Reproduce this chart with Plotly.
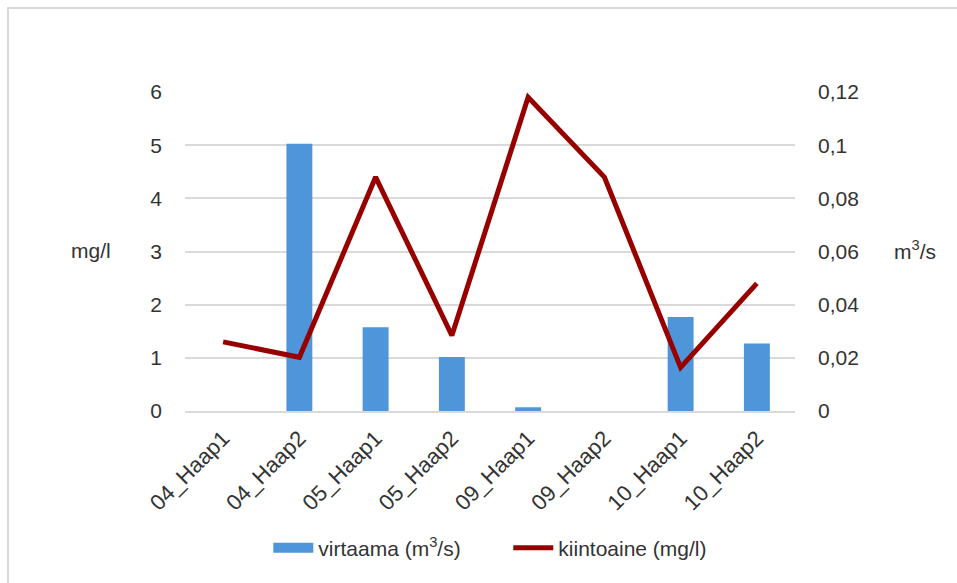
import plotly.graph_objects as go

# Sampling sites
categories = ["04_Haap1", "04_Haap2", "05_Haap1", "05_Haap2",
              "09_Haap1", "09_Haap2", "10_Haap1", "10_Haap2"]
# Flow (m³/s)
virtaama = [0.0, 0.1005, 0.0315, 0.0203, 0.0014, 0.0, 0.0354, 0.0254]
# Suspended solids (mg/l)
kiintoaine = [1.3, 1.01, 4.4, 1.42, 5.9, 4.4, 0.82, 2.4]

left_ticks = [0, 1, 2, 3, 4, 5, 6]
right_ticks = [0, 0.02, 0.04, 0.06, 0.08, 0.1, 0.12]
right_text = ["0", "0,02", "0,04", "0,06", "0,08", "0,1", "0,12"]

BLUE = "#4f95d9"
RED = "#980000"

W, H = 957, 583
L, R, T, B = 185, 162, 92, 172
pw, ph = W - L - R, H - T - B

tick_font = dict(family="Liberation Sans, Arial, sans-serif", size=21, color="#333333")
cat_font = dict(family="Liberation Sans, Arial, sans-serif", size=22, color="#333333")

fig = go.Figure()
fig.add_trace(go.Bar(
    x=categories, y=virtaama, name="virtaama (m<sup>3</sup>/s)",
    marker=dict(color=BLUE, line=dict(width=0)),
    width=0.34, yaxis="y", showlegend=False,
))
fig.add_trace(go.Scatter(
    x=categories, y=kiintoaine, name="kiintoaine (mg/l)",
    mode="lines", line=dict(color=RED, width=5),
    yaxis="y2", showlegend=False,
))
# Legend entries (wide swatch for the bars, thick stroke for the line)
fig.add_trace(go.Scatter(
    x=[None], y=[None], name="virtaama (m<sup>3</sup>/s)",
    mode="lines", line=dict(color=BLUE, width=15), yaxis="y",
))
fig.add_trace(go.Scatter(
    x=[None], y=[None], name="kiintoaine (mg/l)",
    mode="lines", line=dict(color=RED, width=5), yaxis="y2",
))

fig.update_layout(
    width=W, height=H,
    margin=dict(l=L, r=R, t=T, b=B),
    paper_bgcolor="white", plot_bgcolor="white",
    showlegend=True,
    legend=dict(
        orientation="h", x=0.53, xanchor="center", y=-0.43, yanchor="middle",
        font=dict(family="Liberation Sans Narrow, Liberation Sans, sans-serif", size=21, color="#333333"),
        itemwidth=40, traceorder="normal", entrywidth=185,
    ),
    xaxis=dict(
        tickangle=-45, tickfont=cat_font, showgrid=False,
        showline=True, linecolor="#d9d9d9", linewidth=1.5,
        ticks="", ticklabelstandoff=4,
    ),
    yaxis=dict(
        side="right", range=[0, 0.12], tickvals=right_ticks, ticktext=right_text,
        tickfont=tick_font, showgrid=True, gridcolor="#d9d9d9", gridwidth=1.5,
        zeroline=False, showline=False, ticks="", ticklabelstandoff=22,
    ),
    yaxis2=dict(
        overlaying="y", side="left", range=[0, 6], tickvals=left_ticks,
        tickfont=tick_font, showgrid=False, zeroline=False, showline=False,
        ticks="", ticklabelstandoff=22,
    ),
    bargap=0.66,
)

# Axis unit labels
fig.add_annotation(text="mg/l", xref="paper", yref="paper",
                   x=(91 - L) / pw, y=(H - B - 250) / ph, showarrow=False,
                   font=tick_font, xanchor="center", yanchor="middle")
fig.add_annotation(text="m<sup>3</sup>/s", xref="paper", yref="paper",
                   x=(915 - L) / pw, y=(H - B - 250) / ph, showarrow=False,
                   font=tick_font, xanchor="center", yanchor="middle")

# Chart-area border
fig.add_shape(type="rect", xref="paper", yref="paper",
              x0=(8 - L) / pw, x1=(W + 5 - L) / pw,
              y0=(H - B - (H + 5)) / ph, y1=(H - B - 8) / ph,
              line=dict(color="#d9d9d9", width=2), fillcolor="rgba(0,0,0,0)",
              layer="below")

fig.write_html("out.html")
